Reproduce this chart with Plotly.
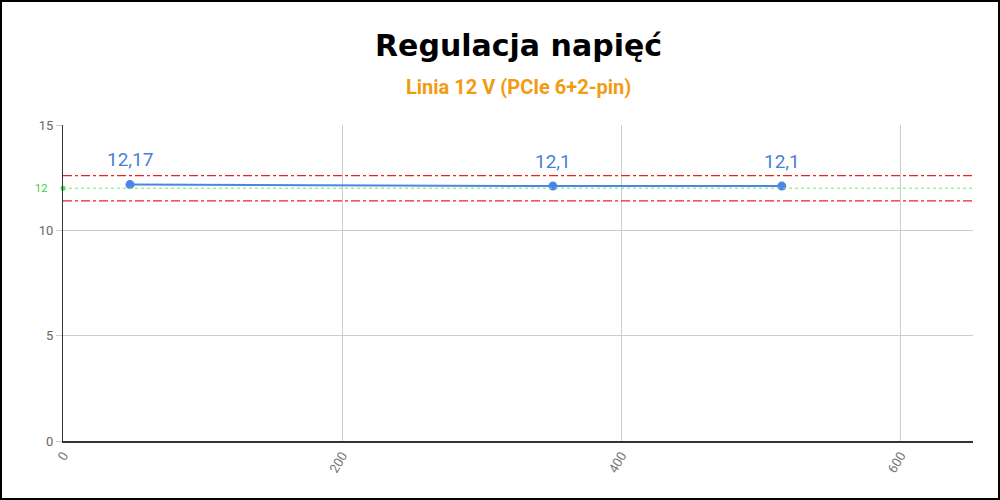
import plotly.graph_objects as go

# load points (W) and measured 12 V rail voltage
load = [48, 351, 515]
voltage = [12.17, 12.1, 12.1]
labels = ["12,17", "12,1", "12,1"]

nominal = 12
upper_limit = 12.6
lower_limit = 11.4

W, H = 1000, 500
ml, mr, mt, mb = 63, 27, 125, 59
pw, ph = W - ml - mr, H - mt - mb

fig = go.Figure()

# nominal and tolerance lines
fig.add_shape(type="line", xref="paper", x0=0, x1=1, y0=nominal, y1=nominal,
              line=dict(color="#66ee66", width=1, dash="dot"))
for lim in (upper_limit, lower_limit):
    fig.add_shape(type="line", xref="paper", x0=0, x1=1, y0=lim, y1=lim,
                  line=dict(color="#ee2222", width=1.3, dash="dashdot"))

fig.add_trace(go.Scatter(
    x=load, y=voltage, mode="lines+markers",
    line=dict(color="#4a86e8", width=2),
    marker=dict(size=9, color="#4a86e8"),
    cliponaxis=False, showlegend=False,
))
for xv, yv, t in zip(load, voltage, labels):
    fig.add_annotation(x=xv, y=yv, text=t, showarrow=False, yshift=25,
                       font=dict(size=19, color="#4a7fd8", family="Roboto"))

fig.add_trace(go.Scatter(
    x=[0], y=[nominal], mode="markers", marker=dict(size=5, color="#44dd44"),
    cliponaxis=False, showlegend=False, hoverinfo="skip",
))
fig.add_annotation(x=0, xref="paper", y=nominal, yref="y", text=str(nominal),
                   showarrow=False, xanchor="right", xshift=-14,
                   font=dict(size=11, color="#44cc44", family="Roboto"))

# titles
fig.add_annotation(x=0.5, xref="paper", y=(ph + mt - 45) / ph, yref="paper",
                   text="<b>Regulacja napięć</b>", showarrow=False,
                   yanchor="middle", font=dict(size=30, color="black", family="DejaVu Sans"))
fig.add_annotation(x=0.5, xref="paper", y=(ph + mt - 87) / ph, yref="paper",
                   text="<b>Linia 12 V (PCIe 6+2-pin)</b>", showarrow=False,
                   yanchor="middle", font=dict(size=20, color="#f29b12", family="Roboto"))

# outer frame
fig.add_shape(type="rect", xref="paper", yref="paper",
              x0=-(ml - 1) / pw, x1=(pw + mr - 1) / pw,
              y0=-(mb - 1) / ph, y1=(ph + mt - 1) / ph,
              line=dict(color="black", width=2), layer="above")

fig.update_layout(
    width=W, height=H,
    margin=dict(l=ml, r=mr, t=mt, b=mb, autoexpand=False),
    plot_bgcolor="white", paper_bgcolor="white",
    font=dict(family="Roboto", color="#666"),
    xaxis=dict(range=[0, 652], tickvals=[0, 200, 400, 600], tickangle=-60,
               showgrid=True, gridcolor="#cccccc", zeroline=False,
               showline=True, linecolor="#333", linewidth=1.5,
               tickfont=dict(size=13, color="#777"), automargin=False),
    yaxis=dict(range=[0, 15], tickvals=[0, 5, 10, 15],
               showgrid=True, gridcolor="#cccccc", zeroline=False,
               showline=True, linecolor="#333", linewidth=1,
               ticks="outside", ticklen=6, tickcolor="#cccccc",
               tickfont=dict(size=13, color="#666"), automargin=False),
)

fig.write_html("out.html", config={"displayModeBar": False},
               post_script="document.body.style.margin='0';")
